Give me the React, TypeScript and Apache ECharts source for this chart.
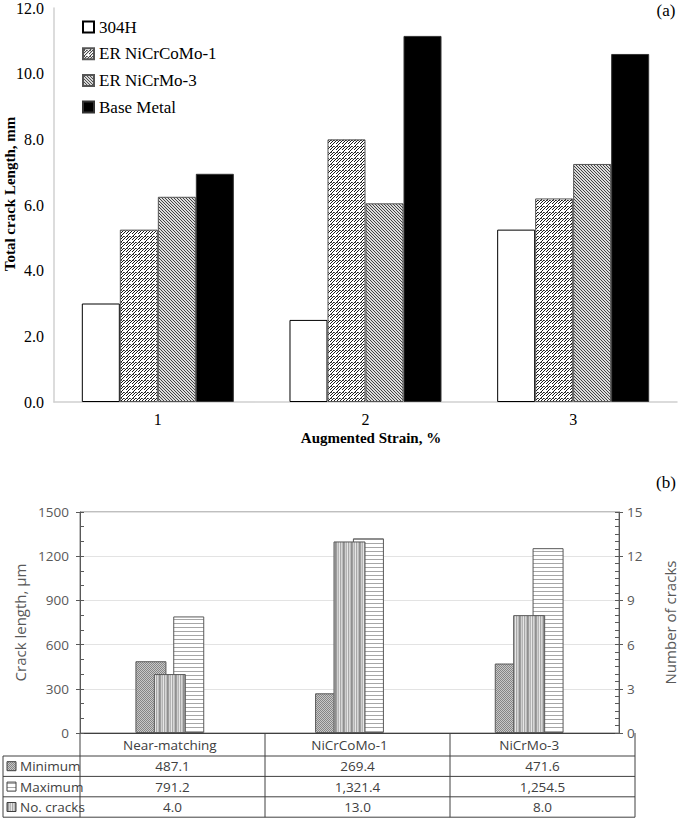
import React, { useEffect, useRef } from "react";
import * as echarts from "echarts";

// ---------- Data: chart (a) ----------
const strainCategories = ["1", "2", "3"];
const seriesNamesA = ["304H", "ER NiCrCoMo-1", "ER NiCrMo-3", "Base Metal"];
const values304H = [3.0, 2.5, 5.25];
const valuesNiCrCoMo1 = [5.25, 8.0, 6.2];
const valuesNiCrMo3 = [6.25, 6.05, 7.25];
const valuesBaseMetal = [6.95, 11.15, 10.6];

// ---------- Data: chart (b) ----------
const weldCategories = ["Near-matching", "NiCrCoMo-1", "NiCrMo-3"];
const minimumLength = [487.1, 269.4, 471.6];
const maximumLength = [791.2, 1321.4, 1254.5];
const crackCounts = [4, 13, 8];
const tableRowLabels = ["Minimum", "Maximum", "No. cracks"];

const SERIF = "'Liberation Serif', 'Times New Roman', serif";
const SANS = "'Open Sans', 'Noto Sans', sans-serif";

// layout
const GA = { left: 54, top: 7, width: 623, height: 395 };
const GB = { left: 80, top: 512, width: 555, height: 221 };

function tile(w: number, h: number, draw: (ctx: CanvasRenderingContext2D) => void) {
  const c = document.createElement("canvas");
  c.width = w;
  c.height = h;
  const ctx = c.getContext("2d") as CanvasRenderingContext2D;
  draw(ctx);
  return { image: c, repeat: "repeat", imageWidth: w, imageHeight: h } as any;
}

function makePatterns() {
  const zigzag = tile(6, 6, (ctx) => {
    ctx.fillStyle = "#fff";
    ctx.fillRect(0, 0, 6, 6);
    ctx.strokeStyle = "#1a1a1a";
    ctx.lineWidth = 1;
    ctx.beginPath();
    ctx.moveTo(0, 6);
    ctx.lineTo(4, 2);
    ctx.moveTo(3, 6);
    ctx.lineTo(6, 3);
    ctx.moveTo(0, 3);
    ctx.lineTo(3, 0);
    ctx.stroke();
    ctx.lineWidth = 0.7;
    ctx.beginPath();
    ctx.moveTo(4, 2);
    ctx.lineTo(5, 3);
    ctx.moveTo(1, 2);
    ctx.lineTo(2, 3);
    ctx.stroke();
  });
  const diag = tile(3, 3, (ctx) => {
    ctx.fillStyle = "#dcdcdc";
    ctx.fillRect(0, 0, 3, 3);
    ctx.strokeStyle = "#303030";
    ctx.lineWidth = 0.9;
    ctx.beginPath();
    ctx.moveTo(-1, -1);
    ctx.lineTo(4, 4);
    ctx.moveTo(-1, 2);
    ctx.lineTo(1, 4);
    ctx.moveTo(2, -1);
    ctx.lineTo(4, 1);
    ctx.stroke();
  });
  const checker = tile(2, 2, (ctx) => {
    ctx.fillStyle = "#c8c8c8";
    ctx.fillRect(0, 0, 2, 2);
    ctx.fillStyle = "#858585";
    ctx.fillRect(0, 0, 1, 1);
    ctx.fillRect(1, 1, 1, 1);
  });
  const vstripes = tile(8, 1, (ctx) => {
    const cols = ["#9e9e9e", "#cfcfcf", "#b5b5b5", "#e6e6e6", "#a8a8a8", "#d6d6d6", "#bcbcbc", "#8f8f8f"];
    cols.forEach((c, i) => {
      ctx.fillStyle = c;
      ctx.fillRect(i, 0, 1, 1);
    });
  });
  const hstripes = tile(1, 4, (ctx) => {
    ctx.fillStyle = "#fff";
    ctx.fillRect(0, 0, 1, 4);
    ctx.fillStyle = "#a6a6a6";
    ctx.fillRect(0, 3, 1, 1);
  });
  return { zigzag, diag, checker, vstripes, hstripes };
}

const fmt = (v: number) =>
  v.toLocaleString("en-US", { minimumFractionDigits: 1, maximumFractionDigits: 1 });

export default function App() {
  const ref = useRef<HTMLDivElement>(null);

  useEffect(() => {
    document.body.style.margin = "0";
    if (!ref.current) return;
    const chart = echarts.init(ref.current, undefined, { renderer: "svg" });
    const P = makePatterns();

    // ---------- table graphics for (b) ----------
    const catW = GB.width / weldCategories.length;
    const tableTop = GB.top + GB.height;
    const headerH = 23;
    const rowH = 20.4;
    const tableLeft = 3;
    const tableRight = GB.left + GB.width;
    const tableBottom = tableTop + headerH + rowH * tableRowLabels.length;
    const lineStyle = { stroke: "#404040", lineWidth: 1 };
    const graphics: any[] = [];
    for (let i = 0; i <= tableRowLabels.length; i++) {
      const y = tableTop + headerH + i * rowH;
      graphics.push({ type: "line", shape: { x1: tableLeft, y1: y, x2: tableRight, y2: y }, style: lineStyle, silent: true });
    }
    for (let j = 0; j <= weldCategories.length; j++) {
      const x = GB.left + j * catW;
      graphics.push({ type: "line", shape: { x1: x, y1: tableTop, x2: x, y2: tableBottom }, style: lineStyle, silent: true });
    }
    graphics.push({ type: "line", shape: { x1: tableLeft, y1: tableTop + headerH, x2: tableLeft, y2: tableBottom }, style: lineStyle, silent: true });

    const rowData = [minimumLength, maximumLength, crackCounts];
    const rowPatterns = [P.checker, P.hstripes, P.vstripes];
    tableRowLabels.forEach((label, i) => {
      const cy = tableTop + headerH + i * rowH + rowH / 2;
      graphics.push({
        type: "rect",
        shape: { x: tableLeft + 4, y: cy - 4.5, width: 9, height: 9 },
        style: { fill: rowPatterns[i], stroke: "#404040", lineWidth: 1 },
        silent: true,
      });
      graphics.push({
        type: "text",
        x: tableLeft + 17,
        y: cy,
        style: { text: label, fontFamily: SANS, fontSize: 13.5, fill: "#404040", align: "left", verticalAlign: "middle" },
        silent: true,
      });
      rowData[i].forEach((v, j) => {
        graphics.push({
          type: "text",
          x: GB.left + catW * (j + 0.5),
          y: cy,
          style: { text: fmt(v), fontFamily: SANS, fontSize: 13.5, fill: "#404040", align: "center", verticalAlign: "middle" },
          silent: true,
        });
      });
    });

    // titles & panel labels
    graphics.push({
      type: "text",
      x: 10,
      y: 194,
      rotation: Math.PI / 2,
      style: { text: "Total crack Length, mm", fontFamily: SERIF, fontWeight: "bold", fontSize: 15, fill: "#000", align: "center", verticalAlign: "middle" },
      silent: true,
    });
    graphics.push({
      type: "text",
      x: 371,
      y: 438,
      style: { text: "Augmented Strain, %", fontFamily: SERIF, fontWeight: "bold", fontSize: 15, fill: "#000", align: "center", verticalAlign: "middle" },
      silent: true,
    });
    graphics.push({
      type: "text",
      x: 666,
      y: 10,
      style: { text: "(a)", fontFamily: SERIF, fontSize: 17, fill: "#000", align: "center", verticalAlign: "middle" },
      silent: true,
    });
    graphics.push({
      type: "text",
      x: 666,
      y: 482,
      style: { text: "(b)", fontFamily: SERIF, fontSize: 17, fill: "#000", align: "center", verticalAlign: "middle" },
      silent: true,
    });

    const tickColor = "#595959";
    const barA = (name: string, data: number[], style: any) => ({
      type: "bar",
      name,
      xAxisIndex: 0,
      yAxisIndex: 0,
      data,
      barGap: "0%",
      barCategoryGap: "26.8%",
      itemStyle: style,
    });

    const option: any = {
      animation: false,
      backgroundColor: "#fff",
      grid: [
        { ...GA, containLabel: false },
        { ...GB, containLabel: false, show: true, borderColor: "#7f7f7f", borderWidth: 1, backgroundColor: "transparent" },
      ],
      legend: {
        data: seriesNamesA,
        orient: "vertical",
        left: 82,
        top: 17,
        padding: 0,
        icon: "rect",
        itemWidth: 11,
        itemHeight: 11,
        itemGap: 6.7,
        selectedMode: false,
        textStyle: { fontFamily: SERIF, fontSize: 17, color: "#000", lineHeight: 20 },
      },
      xAxis: [
        {
          gridIndex: 0,
          type: "category",
          data: strainCategories,
          axisLine: { lineStyle: { color: "#d0d0d0", width: 1.5 } },
          axisTick: { show: false },
          axisLabel: { fontFamily: SERIF, fontSize: 16, color: "#000", margin: 9 },
        },
        {
          gridIndex: 1,
          type: "category",
          data: weldCategories,
          position: "bottom",
          axisLine: { lineStyle: { color: "#404040", width: 1 } },
          axisTick: { show: false },
          axisLabel: { fontFamily: SANS, fontSize: 13.5, color: "#404040", margin: 5 },
        },
        {
          gridIndex: 1,
          type: "category",
          data: weldCategories,
          position: "top",
          show: false,
        },
      ],
      yAxis: [
        {
          gridIndex: 0,
          type: "value",
          min: 0,
          max: 12,
          interval: 2,
          axisLine: { show: true, lineStyle: { color: "#d0d0d0", width: 1.5 } },
          axisTick: { show: false },
          splitLine: { show: false },
          axisLabel: { formatter: (v: number) => v.toFixed(1), fontFamily: SERIF, fontSize: 16, color: "#000", margin: 10 },
        },
        {
          gridIndex: 1,
          type: "value",
          min: 0,
          max: 1500,
          interval: 300,
          position: "left",
          name: "Crack length, μm",
          nameLocation: "middle",
          nameGap: 31,
          nameTextStyle: { fontFamily: SANS, fontSize: 15, color: tickColor },
          axisLine: { show: true, lineStyle: { color: tickColor } },
          axisTick: { show: true, inside: true, length: 4, lineStyle: { color: tickColor } },
          minorTick: { show: true, splitNumber: 3, length: 4, lineStyle: { color: tickColor } },
          splitLine: { show: true, lineStyle: { color: "#e3e3e3" } },
          axisLabel: { formatter: (v: number) => String(v), fontFamily: SANS, fontSize: 13.5, color: tickColor, margin: 11 },
        },
        {
          gridIndex: 1,
          type: "value",
          min: 0,
          max: 15,
          interval: 3,
          position: "right",
          name: "Number of cracks",
          nameLocation: "middle",
          nameGap: 43,
          nameTextStyle: { fontFamily: SANS, fontSize: 15, color: tickColor },
          axisLine: { show: true, lineStyle: { color: tickColor } },
          axisTick: { show: true, inside: true, length: 4, lineStyle: { color: tickColor } },
          minorTick: { show: true, splitNumber: 6, length: 4, lineStyle: { color: tickColor } },
          splitLine: { show: false },
          axisLabel: { formatter: (v: number) => String(v), fontFamily: SANS, fontSize: 13.5, color: tickColor, margin: 8 },
        },
        {
          gridIndex: 1,
          type: "value",
          min: 0,
          max: 1500,
          interval: 300,
          position: "left",
          axisLine: { show: false },
          axisTick: { show: true, inside: false, length: 4, lineStyle: { color: tickColor } },
          axisLabel: { show: false },
          splitLine: { show: false },
        },
        {
          gridIndex: 1,
          type: "value",
          min: 0,
          max: 15,
          interval: 3,
          position: "right",
          axisLine: { show: false },
          axisTick: { show: true, inside: false, length: 4, lineStyle: { color: tickColor } },
          axisLabel: { show: false },
          splitLine: { show: false },
        },
      ],
      series: [
        barA(seriesNamesA[0], values304H, { color: "#fff", borderColor: "#000", borderWidth: 1 }),
        barA(seriesNamesA[1], valuesNiCrCoMo1, { color: P.zigzag, borderColor: "#555", borderWidth: 1 }),
        barA(seriesNamesA[2], valuesNiCrMo3, { color: P.diag, borderColor: "#555", borderWidth: 1 }),
        barA(seriesNamesA[3], valuesBaseMetal, { color: "#000", borderColor: "#333", borderWidth: 1 }),
        {
          type: "bar",
          name: "Minimum",
          xAxisIndex: 1,
          yAxisIndex: 1,
          data: minimumLength,
          barWidth: 31,
          barGap: "22%",
          itemStyle: { color: P.checker, borderColor: "#595959", borderWidth: 1 },
        },
        {
          type: "bar",
          name: "Maximum",
          xAxisIndex: 1,
          yAxisIndex: 1,
          data: maximumLength,
          barWidth: 31,
          barGap: "22%",
          itemStyle: { color: P.hstripes, borderColor: "#595959", borderWidth: 1 },
        },
        {
          type: "bar",
          name: "No. cracks",
          xAxisIndex: 2,
          yAxisIndex: 2,
          data: crackCounts,
          barWidth: 32,
          z: 3,
          itemStyle: { color: P.vstripes, borderColor: "#595959", borderWidth: 1 },
        },
      ],
      graphic: graphics,
    };

    chart.setOption(option);
    return () => chart.dispose();
  }, []);

  return <div ref={ref} style={{ width: 685, height: 820 }} />;
}
